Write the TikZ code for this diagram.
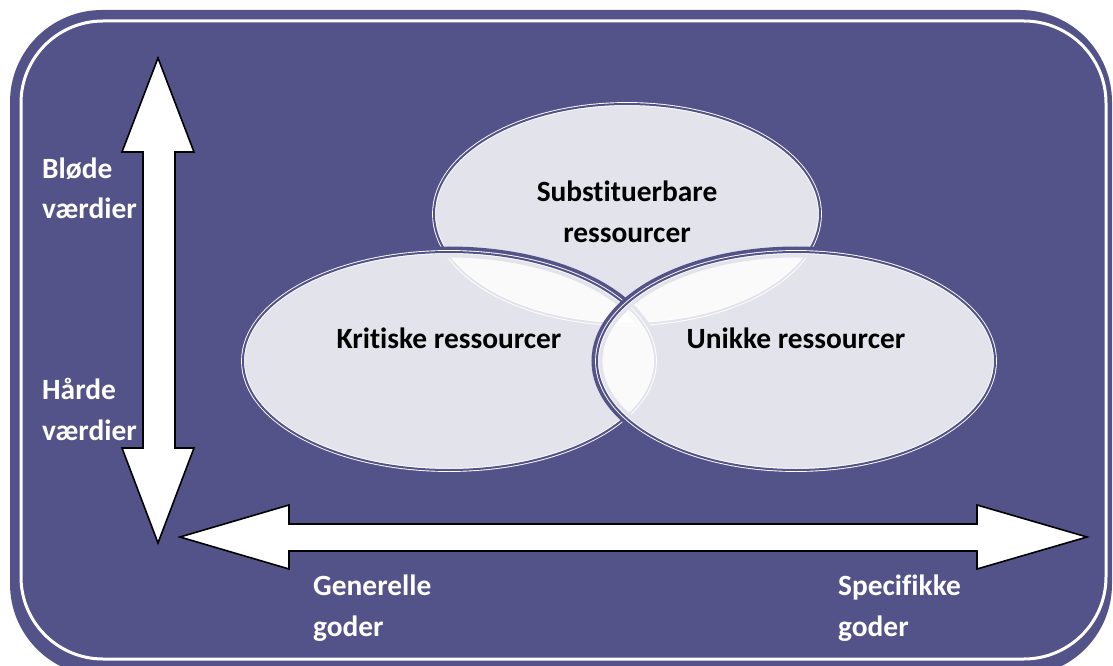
\documentclass[tikz,border=0pt]{standalone}
\usepackage{fontspec}
\setmainfont{Carlito}[Ligatures=NoCommon]
\usetikzlibrary{shapes.geometric}
\definecolor{frame}{RGB}{84,83,137}
\tikzset{
    res/.style={ellipse, inner sep=0pt, fill=white, fill opacity=0.84, text opacity=1,
        draw=white, double=frame, line width=0.9bp, double distance=2bp,
        preaction={draw=frame, line width=11bp},
        text=black, font=\bfseries\fontsize{29.5}{41}\selectfont},
    lbl/.style={align=left, text=white, inner sep=0pt, anchor=base west,
        font=\bfseries\fontsize{29.5}{41}\selectfont},
    blockarrow/.style={fill=white, draw=black, line width=1.6bp, line join=miter}
}

\begin{document}
\begin{tikzpicture}[x=1bp,y=-1bp]
    \useasboundingbox (0,0) rectangle (1113,666);
    \clip (0,0) rectangle (1113,666);
    \fill[white] (0,0) rectangle (1113,666);
    \fill[frame, rounded corners=92bp] (10,10) rectangle (1112,676);
    \draw[white, line width=3bp, rounded corners=82bp] (21,21) rectangle (1106,659);

    % the three ellipses
    \node[res, minimum width=386bp, minimum height=220bp] (subst) at (627,214)
        {\raisebox{-28bp}[0pt][0pt]{\begin{tabular}[b]{@{}c@{}}Substituerbare\\ressourcer\end{tabular}}};
    \node[res, minimum width=412bp, minimum height=218bp] (krit) at (449,361)
        {\raisebox{13bp}[0pt][0pt]{Kritiske ressourcer}};
    \node[res, minimum width=398bp, minimum height=218bp] (unik) at (796,361)
        {\raisebox{13bp}[0pt][0pt]{Unikke ressourcer}};

    % arrows
    \draw[blockarrow] (158,58) -- (194,152) -- (175,152) -- (175,448) -- (194,448)
        -- (158,543) -- (122,448) -- (143,448) -- (143,152) -- (122,152) -- cycle;
    \draw[blockarrow] (180,537) -- (289,505) -- (289,524) -- (977,524) -- (977,505)
        -- (1087,537) -- (977,569) -- (977,551) -- (289,551) -- (289,569) -- cycle;

    \node[lbl] (bloede) at (42,219) {Bløde\\værdier};
    \node[lbl] (haarde) at (42,440) {Hårde\\værdier};
    \node[lbl] (generelle) at (313,636) {Generelle\\goder};
    \node[lbl] (specifikke) at (838,636) {Specifikke\\goder};
\end{tikzpicture}
\end{document}
